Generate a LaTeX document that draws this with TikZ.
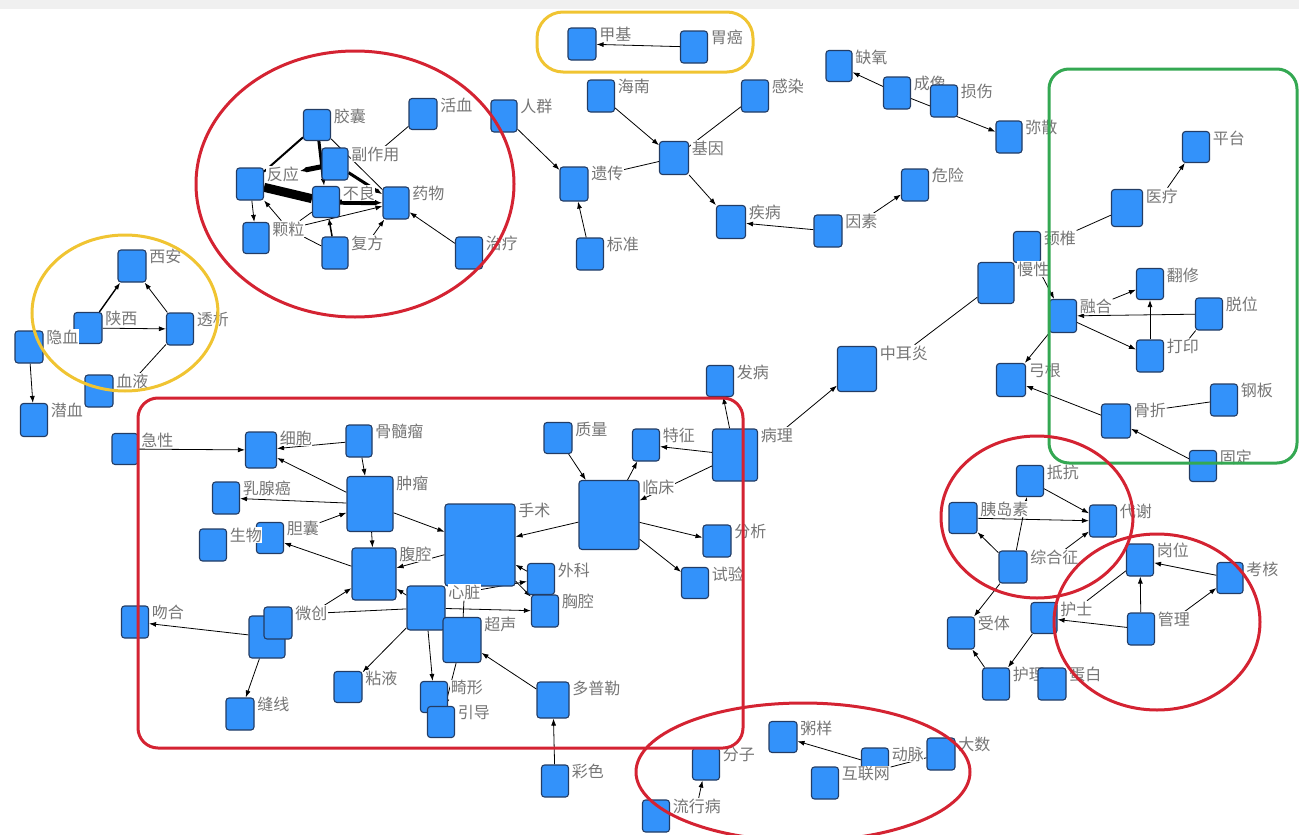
\documentclass[tikz,border=0pt]{standalone}
\usepackage{fontspec}
\setmainfont{Noto Sans CJK SC}
\usetikzlibrary{arrows.meta,backgrounds}
\definecolor{boxblue}{RGB}{51,146,250}
\definecolor{boxedge}{RGB}{35,60,100}
\definecolor{lblgray}{RGB}{118,118,118}
\definecolor{grpred}{RGB}{212,35,50}
\definecolor{grpyel}{RGB}{240,196,50}
\definecolor{grpgreen}{RGB}{52,168,82}
\newcommand{\bx}[6]{%
  \node[bx,minimum width=#4pt,minimum height=#5pt] (#1) at (#2,#3) {};%
  \node[lbl] (#1l) at ([xshift=2pt,yshift=-7pt]#1.north east) {#6};}
\newcommand{\bxn}[5]{%
  \node[bx,minimum width=#4pt,minimum height=#5pt] (#1) at (#2,#3) {};}
\begin{document}
\begin{tikzpicture}[x=1pt,y=-1pt,
  bx/.style={draw=boxedge,line width=1.1pt,fill=boxblue,rounded corners=3pt,inner sep=0pt},
  lbl/.style={anchor=west,inner sep=0.6pt,fill=white,text=lblgray,font=\fontsize{16}{17}\selectfont},
  ed/.style={draw=black,line width=0.8pt},
  ar/.style={ed,-{Latex[length=7pt,width=5pt]}},
  grp/.style={line width=3pt}]
\useasboundingbox (0,0) rectangle (1299,835);
\fill[gray!12] (0,0) rectangle (1299,9);
% ---- top ----
\bx{jiaji}{582}{44}{28}{32}{甲基}
\bx{weiai}{694}{47}{27}{32}{胃癌}
\bx{hainan}{601}{96}{27}{32}{海南}
\bx{ganran}{755}{96}{27}{32}{感染}
\bx{renqun}{504}{116}{26}{32}{人群}
\bx{jiyin}{674}{158}{29}{33}{基因}
\bx{yichuan}{574}{184}{28}{34}{遗传}
\bx{jibing}{731}{222}{29}{33}{疾病}
\bx{yinsu}{828}{231}{28}{32}{因素}
\bx{biaozhun}{590}{254}{27}{32}{标准}
\bx{queyang}{839}{66}{26}{31}{缺氧}
\bx{chengxiang}{897}{93}{27}{32}{成像}
\bx{sunshang}{944}{101}{27}{32}{损伤}
\bx{misan}{1009}{137}{26}{32}{弥散}
\bx{weixian}{915}{185}{27}{32}{危险}
% ---- drug cluster ----
\bx{jiaonang}{317}{125}{27}{31}{胶囊}
\bx{huoxue}{423}{114}{28}{31}{活血}
\bx{fuzuoyong}{335}{164}{26}{32}{副作用}
\bx{fanying}{250}{184}{27}{32}{反应}
\bx{buliang}{326}{202}{27}{31}{不良}
\bx{yaowu}{396}{203}{26}{32}{药物}
\bx{keli}{256}{238}{26}{31}{颗粒}
\bx{fufang}{335}{253}{26}{32}{复方}
\bx{zhiliao}{469}{253}{27}{32}{治疗}
% ---- left ----
\bx{xian}{132}{266}{28}{32}{西安}
\bx{shanxi}{88}{328}{28}{31}{陕西}
\bx{touxi}{180}{329}{27}{32}{透析}
\bx{yinxue}{29}{347}{28}{32}{隐血}
\bx{xueye}{99}{391}{28}{32}{血液}
\bx{qianxue}{34}{420}{27}{33}{潜血}
% ---- right ----
\bx{pingtai}{1196}{147}{27}{31}{平台}
\bx{yiliao}{1127}{208}{31}{37}{医疗}
\bx{jingzhui}{1027}{247}{27}{31}{颈椎}
\bx{manxing}{996}{283}{36}{41}{慢性}
\bx{ronghe}{1063}{316}{27}{33}{融合}
\bx{fanxiu}{1150}{284}{27}{31}{翻修}
\bx{tuowei}{1209}{314}{27}{32}{脱位}
\bx{dayin}{1150}{356}{27}{32}{打印}
\bx{gonggen}{1011}{380}{29}{33}{弓根}
\bx{guzhe}{1116}{421}{29}{34}{骨折}
\bx{gangban}{1224}{400}{27}{32}{钢板}
\bx{guding}{1203}{466}{27}{31}{固定}
\bx{zhongeryan}{857}{369}{39}{45}{中耳炎}
\bx{bingli}{735}{455}{45}{52}{病理}
\bx{fabing}{720}{381}{27}{31}{发病}
% ---- bottom right ----
\bx{dikang}{1030}{481}{27}{31}{抵抗}
\bx{yidaosu}{963}{518}{28}{31}{胰岛素}
\bx{daixie}{1103}{521}{27}{32}{代谢}
\bx{zonghezheng}{1013}{567}{28}{32}{综合征}
\bx{gangwei}{1140}{560}{27}{32}{岗位}
\bx{kaohe}{1230}{578}{26}{31}{考核}
\bx{hushi}{1044}{618}{26}{31}{护士}
\bx{guanli}{1141}{629}{27}{32}{管理}
\bx{shouti}{961}{633}{27}{32}{受体}
\bx{huli}{996}{684}{27}{32}{护理}
\bx{danbai}{1052}{684}{28}{32}{蛋白}
% ---- bottom ----
\bx{duopule}{553}{700}{32}{36}{多普勒}
\bx{caise}{555}{781}{27}{32}{彩色}
\bx{fenzi}{706}{764}{27}{32}{分子}
\bx{liuxingbing}{656}{816}{27}{32}{流行病}
\bx{zhouyang}{783}{737}{28}{31}{粥样}
\bx{dongmai}{875}{764}{27}{32}{动脉}
\bx{hulianwang}{825}{783}{27}{32}{互联网}
\bx{dashu}{941}{754}{28}{32}{大数}
% ---- big rectangle ----
\bx{jixing}{125}{449}{26}{31}{急性}
\bx{xibao}{261}{450}{31}{36}{细胞}
\bx{gusuiliu}{359}{441}{26}{32}{骨髓瘤}
\bx{zhongliu}{370}{504}{46}{55}{肿瘤}
\bx{ruxianai}{226}{498}{27}{32}{乳腺癌}
\bx{danang}{270}{538}{27}{31}{胆囊}
\bx{shengwu}{213}{545}{27}{32}{生物}
\bx{fuqiang}{374}{574}{44}{52}{腹腔}
\bx{shoushu}{480}{545}{70}{82}{手术}
\bx{linchuang}{609}{515}{60}{69}{临床}
\bx{zhiliang}{558}{438}{28}{31}{质量}
\bx{tezheng}{646}{445}{27}{32}{特征}
\bx{fenxi}{717}{541}{28}{32}{分析}
\bx{shiyan}{695}{583}{27}{31}{试验}
\bx{waike}{541}{579}{27}{31}{外科}
\bx{xiongqiang}{545}{611}{27}{32}{胸腔}
\bx{xinzang}{426}{608}{38}{44}{心脏}
\bx{chaosheng}{462}{640}{38}{45}{超声}
\bx{jixingb}{434}{697}{27}{31}{畸形}
\bx{yindao}{441}{722}{27}{31}{引导}
\bx{nianye}{348}{687}{28}{31}{粘液}
\bxn{weichuangb}{267}{637}{36}{42}
\bx{weichuang}{278}{623}{28}{32}{微创}
\bx{wenhe}{135}{622}{27}{32}{吻合}
\bx{fengxian}{240}{714}{28}{32}{缝线}
% ---- edges ----
\begin{scope}[on background layer]
\draw[ar] (weiai) -- (jiaji);
\draw[ar] (renqun) -- (yichuan);
\draw[ar] (hainan) -- (jiyin);
\draw[ed] (ganran) -- (jiyin);
\draw[ed] (jiyin) -- (yichuanl);
\draw[ar] (jiyin) -- (jibing);
\draw[ar] (yinsu) -- (jibing);
\draw[ar] (biaozhun) -- (yichuan);
\draw[ar] (yinsul) -- (weixian);
\draw[ar] (chengxiang) -- (queyang);
\draw[ar] (chengxiang) -- (misan);
\draw[ed] (chengxiangl) -- (sunshang);
% drug
\draw[ed,line width=2pt] (jiaonang) -- (fanying);
\draw[ar,line width=3pt] (jiaonang) -- (buliang);
\draw[ar,line width=5pt] (fuzuoyong) -- (fanyingl);
\draw[ed,line width=9pt] (fanying) -- (buliang);
\draw[ar,line width=5pt] (buliang) -- (yaowu);
\draw[ar,line width=3pt] (fuzuoyong) -- (yaowu);
\draw[ed] (jiaonang) -- (yaowu);
\draw[ar] (fanying) -- (keli);
\draw[ar] (kelil) -- (fanying);
\draw[ed] (kelil) -- (buliang);
\draw[ar] (kelil) -- (yaowu);
\draw[ar,line width=1.5pt] (fufang) -- (buliang);
\draw[ar] (fufangl) -- (yaowu);
\draw[ed] (kelil) -- (fufang);
\draw[ed] (huoxue) -- (fuzuoyongl);
\draw[ar] (zhiliao) -- (yaowu);
% left
\draw[ar,line width=1.4pt] (shanxi) -- (xian);
\draw[ar] (touxi) -- (xian);
\draw[ar] (shanxi) -- (touxi);
\draw[ed] (xueyel) -- (touxi);
\draw[ar] (yinxue) -- (qianxue);
% right
\draw[ar] (yiliaol) -- (pingtai);
\draw[ed] (jingzhuil) -- (yiliao);
\draw[ar] (jingzhui) -- (ronghe);
\draw[ed] (zhongeryanl) -- (manxing);
\draw[ar] (binglil) -- (zhongeryan);
\draw[ar] (bingli) -- (fabing);
\draw[ar] (ronghel) -- (fanxiu);
\draw[ar] (tuowei) -- (ronghe);
\draw[ar] (dayin) -- (fanxiu);
\draw[ar] (ronghe) -- (dayin);
\draw[ed] (tuowei) -- (dayinl);
\draw[ar] (ronghe) -- (gonggen);
\draw[ar] (guzhe) -- (gonggen);
\draw[ed] (gangban) -- (guzhel);
\draw[ar] (guding) -- (guzhe);
% bottom right
\draw[ar] (dikang) -- (daixie);
\draw[ar] (yidaosu) -- (daixie);
\draw[ar] (zonghezhengl) -- (daixie);
\draw[ar] (zonghezheng) -- (yidaosu);
\draw[ar] (zonghezheng) -- (dikang);
\draw[ar] (zonghezheng) -- (shouti);
\draw[ar] (hushi) -- (huli);
\draw[ar] (huli) -- (shouti);
\draw[ar] (guanli) -- (hushi);
\draw[ar] (guanli) -- (gangwei);
\draw[ar] (kaohe) -- (gangwei);
\draw[ar] (guanlil) -- (kaohe);
\draw[ed] (hushil) -- (gangwei);
% bottom
\draw[ar] (caise) -- (duopule);
\draw[ar] (liuxingbingl) -- (fenzi);
\draw[ar] (dongmai) -- (zhouyang);
\draw[ed] (dashu) -- (hulianwangl);
% big rectangle
\draw[ar] (jixing) -- (xibao);
\draw[ar] (gusuiliu) -- (xibao);
\draw[ar] (zhongliu) -- (xibao);
\draw[ar] (gusuiliu) -- (zhongliu);
\draw[ar] (zhongliu) -- (ruxianai);
\draw[ar] (danangl) -- (zhongliu);
\draw[ar] (fuqiang) -- (danang);
\draw[ar] (zhongliu) -- (fuqiang);
\draw[ar] (zhongliu) -- (shoushu);
\draw[ar] (shoushu) -- (fuqiang);
\draw[ar] (linchuang) -- (shoushu);
\draw[ar] (zhiliang) -- (linchuang);
\draw[ar] (linchuang) -- (tezheng);
\draw[ar] (bingli) -- (tezheng);
\draw[ar] (bingli) -- (linchuang);
\draw[ar] (linchuang) -- (fenxi);
\draw[ar] (linchuang) -- (shiyan);
\draw[ar] (xinzangl) -- (waike);
\draw[ar] (waike) -- (shoushu);
\draw[ar] (shoushu) -- (xiongqiang);
\draw[ar] (xinzang) -- (xiongqiang);
\draw[ar] (xinzang) -- (fuqiang);
\draw[ed] (xinzang) -- (weichuangl);
\draw[ar] (weichuangl) -- (fuqiang);
\draw[ar] (xinzang) -- (jixingb);
\draw[ed] (xinzangl) -- (chaosheng);
\draw[ar] (chaosheng) -- (yindao);
\draw[ar] (xinzang) -- (nianye);
\draw[ar] (duopule) -- (chaosheng);
\draw[ar] (weichuangb) -- (wenhe);
\draw[ar] (weichuangb) -- (fengxian);
\end{scope}
% ---- groups ----
\draw[grp,grpyel,rounded corners=26pt] (537,12) rectangle (753,72);
\draw[grp,grpred] (355,184) ellipse[x radius=159,y radius=133];
\draw[grp,grpyel] (125,313) ellipse[x radius=93,y radius=78];
\draw[grp,grpred,rounded corners=20pt] (138,398) rectangle (743,748);
\draw[grp,grpgreen,rounded corners=20pt] (1049,69) rectangle (1297,463);
\draw[grp,grpred] (1037,517) ellipse[x radius=96,y radius=81];
\draw[grp,grpred] (1157,622) ellipse[x radius=103,y radius=88];
\draw[grp,grpred] (803,772) ellipse[x radius=167,y radius=69];
\end{tikzpicture}
\end{document}
